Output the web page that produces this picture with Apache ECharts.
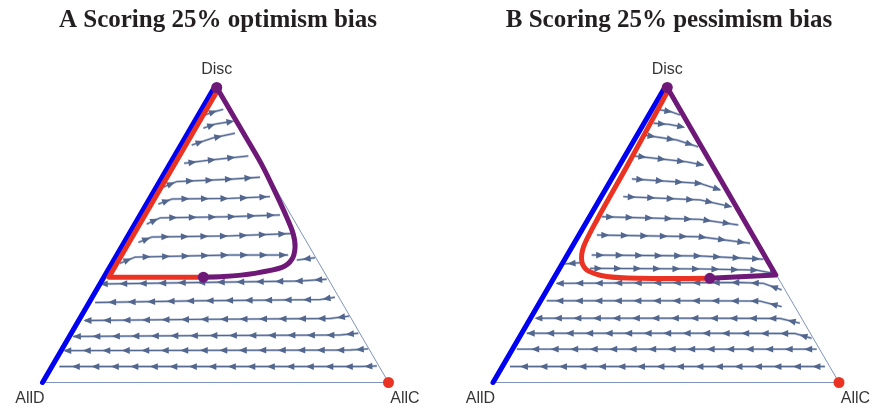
<!DOCTYPE html>
<html>
<head>
<meta charset="utf-8">
<script src="https://cdn.jsdelivr.net/npm/echarts@6/dist/echarts.min.js"></script>
<style>
  html, body { margin: 0; padding: 0; background: #ffffff; }
  #chart { width: 875px; height: 410px; }
</style>
</head>
<body>
<div id="chart"></div>
<script>
// Each simplex is drawn in plane coordinates: x runs along the AllD -> AllC base (0..1),
// y is the Disc share (0 on the base, 1 at the Disc vertex).

const panelTitles = ['A Scoring 25% optimism bias', 'B Scoring 25% pessimism bias'];
const vertexNames = ['AllD', 'AllC', 'Disc'];
const vertexPoints = [[0, 0], [1, 0], [0.5, 1]];
const simplexOutline = [[0, 0], [1, 0], [0.5, 1], [0, 0]];

// Streamlines of the replicator flow, each listed in the direction of motion.
const streamsA = [
  [[0.466, 0.907], [0.490, 0.917], [0.519, 0.926]],
  [[0.461, 0.862], [0.495, 0.876], [0.539, 0.884]],
  [[0.427, 0.805], [0.489, 0.829], [0.553, 0.845]],
  [[0.405, 0.743], [0.480, 0.754], [0.592, 0.768]],
  [[0.344, 0.662], [0.383, 0.681], [0.539, 0.689], [0.626, 0.696]],
  [[0.330, 0.605], [0.370, 0.622], [0.539, 0.624], [0.655, 0.630]],
  [[0.296, 0.537], [0.335, 0.558], [0.539, 0.562], [0.684, 0.568]],
  [[0.272, 0.475], [0.311, 0.493], [0.539, 0.497], [0.722, 0.505]],
  [[0.218, 0.404], [0.262, 0.425], [0.539, 0.432], [0.708, 0.432]],
  [[0.786, 0.423], [0.733, 0.415]],
  [[0.820, 0.350], [0.742, 0.344], [0.451, 0.339], [0.168, 0.334]],
  [[0.844, 0.289], [0.801, 0.281], [0.451, 0.277], [0.146, 0.271]],
  [[0.886, 0.225], [0.830, 0.217], [0.451, 0.214], [0.116, 0.210]],
  [[0.912, 0.167], [0.859, 0.161], [0.451, 0.159], [0.082, 0.156]],
  [[0.941, 0.114], [0.888, 0.110], [0.451, 0.109], [0.058, 0.108]],
  [[0.966, 0.056], [0.917, 0.054], [0.042, 0.054]]
];

const streamsB = [
  [[0.479, 0.924], [0.510, 0.918], [0.537, 0.907]],
  [[0.460, 0.879], [0.505, 0.875], [0.542, 0.867]],
  [[0.430, 0.839], [0.528, 0.822], [0.590, 0.799]],
  [[0.403, 0.768], [0.557, 0.748], [0.605, 0.737]],
  [[0.397, 0.690], [0.595, 0.675], [0.654, 0.653]],
  [[0.372, 0.630], [0.595, 0.619], [0.678, 0.598]],
  [[0.309, 0.562], [0.595, 0.553], [0.707, 0.534]],
  [[0.295, 0.500], [0.595, 0.494], [0.741, 0.472]],
  [[0.280, 0.432], [0.595, 0.429], [0.780, 0.418]],
  [[0.275, 0.387], [0.595, 0.385], [0.760, 0.381], [0.809, 0.370]],
  [[0.246, 0.406], [0.202, 0.402]],
  [[0.833, 0.314], [0.780, 0.336], [0.712, 0.339], [0.450, 0.338], [0.178, 0.336]],
  [[0.833, 0.257], [0.770, 0.276], [0.595, 0.277], [0.149, 0.277]],
  [[0.886, 0.201], [0.829, 0.217], [0.595, 0.218], [0.120, 0.218]],
  [[0.920, 0.150], [0.872, 0.166], [0.595, 0.167], [0.091, 0.167]],
  [[0.935, 0.113], [0.595, 0.113], [0.062, 0.113]],
  [[0.959, 0.054], [0.595, 0.054], [0.042, 0.054]]
];

// Highlighted trajectories and edges.
const blueEdgeA = [[0, 0], [0.5, 1]];
const redPathA = [[0.5, 1], [0.1785, 0.357], [0.455, 0.357]];
const purplePathA = [[0.5, 1], [0.584, 0.833], [0.634, 0.732], [0.672, 0.641], [0.703, 0.562],
  [0.722, 0.506], [0.728, 0.460], [0.719, 0.418], [0.690, 0.390], [0.610, 0.370],
  [0.520, 0.359], [0.461, 0.357]];

const blueEdgeB = [[0, 0], [0.5, 1]];
const redPathB = [[0.5, 1], [0.375, 0.732], [0.288, 0.551], [0.249, 0.460], [0.244, 0.410],
  [0.259, 0.381], [0.317, 0.359], [0.414, 0.353], [0.617, 0.353]];
const purplePathB = [[0.5, 1], [0.816, 0.364], [0.624, 0.353]];

// Rest points.
const purpleDotsA = [[0.5, 1], [0.461, 0.357]];
const purpleDotsB = [[0.5, 1], [0.624, 0.353]];
const redDots = [[1, 0]];

const COLORS = {
  edge: '#7f94bc',
  stream: '#52668e',
  blue: '#0000f2',
  red: '#ea3323',
  purple: '#6e1877'
};

const ARROW_GAP = 19.5;
const ARROW_START = 8;

function streamSeries(gridIdx, lines) {
  return {
    type: 'custom',
    coordinateSystem: 'cartesian2d',
    xAxisIndex: gridIdx,
    yAxisIndex: gridIdx,
    silent: true,
    clip: false,
    z: 2,
    data: lines.map(l => l[0]),
    renderItem: function (params, api) {
      const pts = lines[params.dataIndex].map(p => api.coord(p));
      const children = [{
        type: 'polyline',
        shape: { points: pts },
        style: { stroke: '#a9b6cf', lineWidth: 2.4, fill: 'none' }
      }, {
        type: 'polyline',
        shape: { points: pts },
        style: { stroke: COLORS.stream, lineWidth: 1, fill: 'none' }
      }];
      let t = ARROW_START;
      for (let k = 1; k < pts.length; k++) {
        const x0 = pts[k - 1][0], y0 = pts[k - 1][1];
        const x1 = pts[k][0], y1 = pts[k][1];
        const len = Math.hypot(x1 - x0, y1 - y0);
        const ux = (x1 - x0) / len, uy = (y1 - y0) / len;
        while (t <= len) {
          const cx = x0 + ux * t, cy = y0 + uy * t;
          children.push({
            type: 'polygon',
            shape: {
              points: [
                [cx + ux * 4.5, cy + uy * 4.5],
                [cx - ux * 3.5 - uy * 3.4, cy - uy * 3.5 + ux * 3.4],
                [cx - ux * 3.5 + uy * 3.4, cy - uy * 3.5 - ux * 3.4]
              ]
            },
            style: { fill: COLORS.stream, stroke: null }
          });
          t += ARROW_GAP;
        }
        t -= len;
      }
      return { type: 'group', children: children };
    }
  };
}

function pathSeries(gridIdx, paths, z) {
  return {
    type: 'custom',
    coordinateSystem: 'cartesian2d',
    xAxisIndex: gridIdx,
    yAxisIndex: gridIdx,
    silent: true,
    clip: false,
    z: z,
    data: paths.map(p => p.points[0]),
    renderItem: function (params, api) {
      const p = paths[params.dataIndex];
      return {
        type: 'polyline',
        x: p.shift || 0,
        shape: { points: p.points.map(q => api.coord(q)), smooth: p.smooth || 0 },
        style: {
          stroke: p.color, lineWidth: p.width, fill: 'none',
          lineCap: 'round', lineJoin: 'round'
        }
      };
    }
  };
}

function dotSeries(gridIdx, points, color, size) {
  return {
    type: 'scatter',
    xAxisIndex: gridIdx,
    yAxisIndex: gridIdx,
    silent: true,
    z: 5,
    symbol: 'circle',
    symbolSize: size,
    itemStyle: { color: color, opacity: 1 },
    data: points
  };
}

const labelOffsets = { AllD: [-15, 16], AllC: [16.5, 16], Disc: [0, -17.5] };

function vertexLabelSeries(gridIdx) {
  return {
    type: 'scatter',
    xAxisIndex: gridIdx,
    yAxisIndex: gridIdx,
    silent: true,
    z: 6,
    symbolSize: 0,
    data: vertexPoints.map((p, i) => ({
      value: p,
      name: vertexNames[i],
      label: { offset: labelOffsets[vertexNames[i]] }
    })),
    label: {
      show: true,
      position: 'inside',
      formatter: '{b}',
      color: '#000000',
      fontFamily: '"Liberation Sans", Arial, sans-serif',
      fontSize: 16
    }
  };
}

function outlineSeries(gridIdx) {
  return {
    type: 'line',
    xAxisIndex: gridIdx,
    yAxisIndex: gridIdx,
    silent: true,
    z: 1,
    symbol: 'none',
    lineStyle: { color: COLORS.edge, width: 1 },
    data: simplexOutline
  };
}

const gridLefts = [45, 495.5];
const panelCenters = [218, 669];

const chart = echarts.init(document.getElementById('chart'), null, { renderer: 'canvas' });

const grids = gridLefts.map(l => ({ left: l, top: 87.5, width: 343.5, height: 295, containLabel: false }));
const xAxes = gridLefts.map((l, i) => ({ type: 'value', gridIndex: i, min: 0, max: 1, show: false }));
const yAxes = gridLefts.map((l, i) => ({ type: 'value', gridIndex: i, min: 0, max: 1, show: false }));

const series = [];
[
  { streams: streamsA, blue: blueEdgeA, red: redPathA, purple: purplePathA, purpleDots: purpleDotsA, redSmooth: 0, purpleSmooth: 0.3 },
  { streams: streamsB, blue: blueEdgeB, red: redPathB, purple: purplePathB, purpleDots: purpleDotsB, redSmooth: 0.3, purpleSmooth: 0 }
].forEach((panel, i) => {
  series.push(outlineSeries(i));
  series.push(streamSeries(i, panel.streams));
  series.push(pathSeries(i, [
    { points: panel.blue, color: COLORS.blue, width: 5, shift: -2.5 },
    { points: panel.red, color: COLORS.red, width: 5, shift: 2.5, smooth: panel.redSmooth }
  ], 3));
  series.push(pathSeries(i, [
    { points: panel.purple, color: COLORS.purple, width: 5, smooth: panel.purpleSmooth }
  ], 4));
  series.push(dotSeries(i, panel.purpleDots, COLORS.purple, 11));
  series.push(dotSeries(i, redDots, COLORS.red, 11));
  series.push(vertexLabelSeries(i));
});

chart.setOption({
  animation: false,
  backgroundColor: '#ffffff',
  grid: grids,
  xAxis: xAxes,
  yAxis: yAxes,
  graphic: panelTitles.map((t, i) => ({
    type: 'text',
    x: panelCenters[i],
    y: 21,
    silent: true,
    style: {
      text: t,
      fill: '#231f20',
      font: 'bold 25px "Liberation Serif", "Times New Roman", serif',
      textAlign: 'center',
      textVerticalAlign: 'middle',
      align: 'center',
      verticalAlign: 'middle'
    }
  })),
  series: series
});
</script>
</body>
</html>
